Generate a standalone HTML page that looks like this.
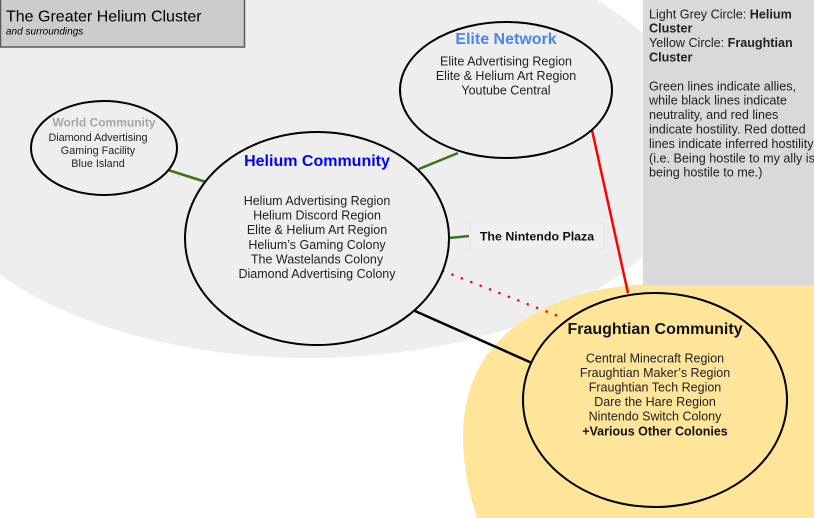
<!DOCTYPE html>
<html><head><meta charset="utf-8"><style>
html,body{margin:0;padding:0;background:#fff;}
svg{display:block;}
text{font-family:"Liberation Sans",Arial,sans-serif;}
</style></head><body>
<svg width="814" height="518" viewBox="0 0 814 518" xmlns="http://www.w3.org/2000/svg">
<rect width="814" height="518" fill="#ffffff"/>
<ellipse cx="310" cy="145" rx="391" ry="213" fill="#eeeeee"/>
<path d="M 814 283 L 650 284 C 590 286, 530 305, 495 345 C 462 382, 452 440, 477 518 L 814 518 Z" fill="#ffe599"/>
<rect x="643" y="0" width="171" height="285" fill="#d9d9d9"/>
<rect x="0.5" y="-1" width="244" height="48" fill="#cccccc" stroke="#595959" stroke-width="1.5"/>
<text x="6" y="21.7" font-size="16" fill="#000">The Greater Helium Cluster</text>
<text x="6" y="34.5" font-size="10" font-style="italic" fill="#000">and surroundings</text>

<g font-size="12.6" fill="#222">
<text x="649" y="18.3">Light Grey Circle: <tspan font-weight="bold">Helium</tspan></text>
<text x="649" y="32.7" font-weight="bold">Cluster</text>
<text x="649" y="47.1">Yellow Circle: <tspan font-weight="bold">Fraughtian</tspan></text>
<text x="649" y="61.5" font-weight="bold">Cluster</text>
<text x="649" y="90.3">Green lines indicate allies,</text>
<text x="649" y="104.7">while black lines indicate</text>
<text x="649" y="119.1">neutrality, and red lines</text>
<text x="649" y="133.5">indicate hostility. Red dotted</text>
<text x="649" y="147.9">lines indicate inferred hostility</text>
<text x="649" y="162.3">(i.e. Being hostile to my ally is</text>
<text x="649" y="176.7">being hostile to me.)</text>
</g>

<!-- connectors -->
<line x1="168" y1="170" x2="206" y2="182" stroke="#38761d" stroke-width="2.5"/>
<line x1="419" y1="169" x2="458" y2="153" stroke="#38761d" stroke-width="2.5"/>
<line x1="449" y1="238" x2="469" y2="236" stroke="#38761d" stroke-width="2.5"/>
<line x1="592" y1="130" x2="628" y2="293" stroke="#ff0000" stroke-width="2.5"/>
<line x1="443" y1="271" x2="563" y2="318" stroke="#ff0000" stroke-width="2.5" stroke-dasharray="0.1 10" stroke-linecap="round"/>
<line x1="415" y1="311" x2="532" y2="363" stroke="#000" stroke-width="2.5"/>

<!-- nodes -->
<ellipse cx="104" cy="148" rx="73" ry="47" fill="#eeeeee" stroke="#000" stroke-width="2"/>
<text x="104" y="126.5" font-size="12" font-weight="bold" fill="#a6a6a6" text-anchor="middle">World Community</text>
<g font-size="10.8" fill="#222" text-anchor="middle">
<text x="98" y="141">Diamond Advertising</text>
<text x="98" y="154">Gaming Facility</text>
<text x="98" y="167">Blue Island</text>
</g>

<ellipse cx="506" cy="90" rx="106" ry="68" fill="#eeeeee" stroke="#000" stroke-width="2"/>
<text x="506" y="43.8" font-size="16" font-weight="bold" fill="#4a86e8" text-anchor="middle">Elite Network</text>
<g font-size="12.5" fill="#222" text-anchor="middle">
<text x="506" y="65.5">Elite Advertising Region</text>
<text x="506" y="80">Elite &amp; Helium Art Region</text>
<text x="506" y="94.5">Youtube Central</text>
</g>

<ellipse cx="317" cy="238.5" rx="132" ry="106.5" fill="#eeeeee" stroke="#000" stroke-width="2"/>
<text x="317" y="165.8" font-size="16" font-weight="bold" fill="#0000ff" text-anchor="middle">Helium Community</text>
<g font-size="12.5" fill="#222" text-anchor="middle">
<text x="317" y="205">Helium Advertising Region</text>
<text x="317" y="219.6">Helium Discord Region</text>
<text x="317" y="234.2">Elite &amp; Helium Art Region</text>
<text x="317" y="248.8">Helium’s Gaming Colony</text>
<text x="317" y="263.4">The Wastelands Colony</text>
<text x="317" y="278">Diamond Advertising Colony</text>
</g>

<rect x="470" y="223" width="134" height="26" fill="#efefef" stroke="#e6e6e6" stroke-width="1"/>
<text x="537" y="240.5" font-size="12.4" font-weight="bold" fill="#111" text-anchor="middle">The Nintendo Plaza</text>

<ellipse cx="655" cy="400" rx="132" ry="107" fill="#ffe599" stroke="#000" stroke-width="2"/>
<text x="655" y="333.8" font-size="16" font-weight="bold" fill="#111" text-anchor="middle">Fraughtian Community</text>
<g font-size="12.5" fill="#222" text-anchor="middle">
<text x="655" y="362.3">Central Minecraft Region</text>
<text x="655" y="376.9">Fraughtian Maker’s Region</text>
<text x="655" y="391.5">Fraughtian Tech Region</text>
<text x="655" y="406.1">Dare the Hare Region</text>
<text x="655" y="420.7">Nintendo Switch Colony</text>
<text x="655" y="435.3" font-weight="bold" fill="#111">+Various Other Colonies</text>
</g>
</svg>
</body></html>
